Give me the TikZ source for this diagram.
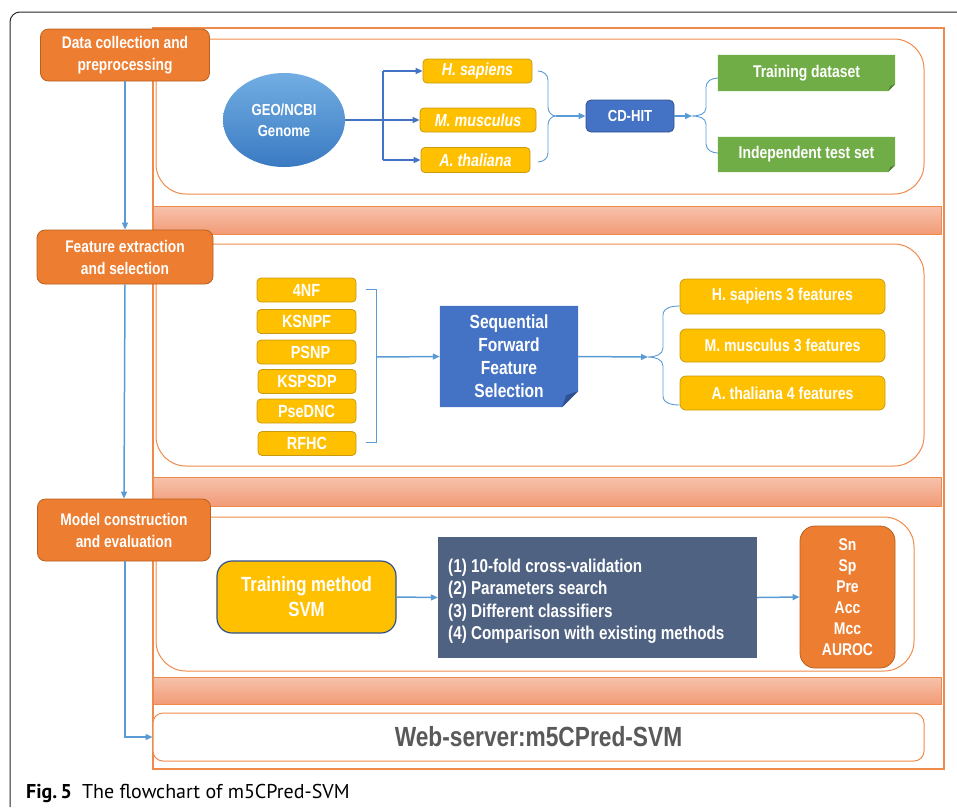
\documentclass[tikz,border=0pt]{standalone}
\usepackage{fontspec}
\setmainfont{Liberation Sans}
\newfontfamily\nar[FakeStretch=0.82]{Liberation Sans}
\newfontfamily\capfont{PT Sans}
\usetikzlibrary{arrows.meta,shapes.geometric,calc}
\definecolor{orC}{HTML}{ED7D31}
\definecolor{orD}{HTML}{B9601F}
\definecolor{orP}{HTML}{F08A4B}
\definecolor{bandT}{HTML}{F6C2AC}
\definecolor{bandB}{HTML}{F29B77}
\definecolor{yeC}{HTML}{FFC000}
\definecolor{yeD}{HTML}{C99A10}
\definecolor{blC}{HTML}{4472C4}
\definecolor{blD}{HTML}{2F528F}
\definecolor{ltB}{HTML}{5B9BD5}
\definecolor{grC}{HTML}{70AD47}
\definecolor{grD}{HTML}{507E32}
\definecolor{slC}{HTML}{4F6282}
\definecolor{ellT}{HTML}{72AEE3}
\definecolor{ellB}{HTML}{3A7AC2}
\definecolor{webT}{HTML}{595959}
\begin{document}
\begin{tikzpicture}[x=1pt,y=-1pt,
  stepbox/.style={draw=orD, fill=orC, rounded corners=8pt, line width=0.8pt, text=white,
    font=\nar\bfseries\fontsize{16.8}{22}\selectfont, align=center, inner sep=0pt},
  ybox/.style={draw=yeD, fill=yeC, rounded corners=4pt, line width=0.8pt, text=white,
    font=\nar\bfseries\fontsize{17.6}{20}\selectfont, align=center, inner sep=0pt},
  spbox/.style={ybox, font=\nar\bfseries\itshape\fontsize{17.4}{20}\selectfont},
  outbox/.style={ybox, rounded corners=6pt, font=\nar\bfseries\fontsize{17.2}{20}\selectfont},
  panel/.style={draw=orP, line width=1pt, rounded corners=30pt},
  band/.style={draw=orP, line width=1pt, top color=bandT, bottom color=bandB},
  arr/.style={draw=ltB, line width=1.5pt, -{Triangle[length=7pt,width=6pt]}},
  darr/.style={draw=blC, line width=1.5pt, -{Triangle[length=7pt,width=6pt]}},
  brace/.style={draw=ltB, line width=0.9pt},
  notetxt/.style={text=white, font=\nar\bfseries\fontsize{17}{21}\selectfont, align=center, inner sep=0pt}
]
\useasboundingbox (0,0) rectangle (957,807);
% page frame
\draw[black!85, line width=1pt, rounded corners=10pt] (10,807) -- (10,12) -- (957,12);
% outer orange rectangle
\draw[orP, line width=1.2pt] (153,28) rectangle (944,769);
% panels and bands
\draw[panel] (156,39) rectangle (924,194);
\draw[band] (153,206) rectangle (941,234);
\draw[panel] (156,244) rectangle (924,466);
\draw[band] (153,477) rectangle (941,506);
\draw[panel] (156,517) rectangle (914,671);
\draw[band] (153,677) rectangle (941,704);
\node[draw=orP, line width=1pt, rounded corners=10pt, fill=white, minimum width=771pt, minimum height=48pt,
  text=webT, font=\nar\bfseries\fontsize{27.7}{30}\selectfont, inner sep=0pt] (web) at (538.5,737) {Web-server:m5CPred-SVM};

% step boxes
\node[stepbox, minimum width=169pt, minimum height=52pt] (s1) at (125,55) {Data collection and\\preprocessing};
\node[stepbox, minimum width=176pt, minimum height=54pt] (s2) at (125,257) {Feature extraction\\and selection};
\node[stepbox, minimum width=173pt, minimum height=62pt] (s3) at (124,530) {Model construction\\and evaluation};
\draw[arr] (s1.south) -- (s2.north);
\draw[arr] (s2.south) -- (s3.north);
\draw[arr] (s3.south -| 125,0) |- (web.west);

% ---- panel 1
\node[ellipse, top color=ellT, bottom color=ellB, minimum width=122pt, minimum height=94pt, inner sep=0pt,
  text=white, font=\nar\bfseries\fontsize{16}{21}\selectfont, align=center] (geo) at (284,120) {GEO/NCBI\\Genome};
\node[spbox, minimum width=109pt, minimum height=24pt] (hs) at (477.5,71) {H. sapiens};
\node[spbox, minimum width=116pt, minimum height=24pt] (mm) at (478,120) {M. musculus};
\node[spbox, minimum width=109pt, minimum height=25pt] (at) at (475.5,160) {A. thaliana};
\coordinate (sp) at (383,120);
\draw[blC, line width=1.5pt] (geo.east) -- (sp);
\draw[blC, line width=1.5pt] (sp |- hs.west) -- (sp |- at.west);
\draw[darr] (sp |- hs.west) -- (hs.west);
\draw[darr] (sp) -- (mm.west);
\draw[darr] (sp |- at.west) -- (at.west);

\node[draw=blD, fill=blC, rounded corners=5pt, line width=0.8pt, minimum width=88pt, minimum height=32pt,
  text=white, font=\nar\bfseries\fontsize{16}{20}\selectfont, inner sep=0pt] (cd) at (630,116) {CD-HIT};
% brace 1
\coordinate (b1t) at (538,71);
\coordinate (b1b) at (538,162);
\coordinate (b1m) at (556,116);
\draw[brace] (b1t) to[out=0,in=90] (548,80) -- (548,107) to[out=-90,in=180] (b1m)
  to[out=180,in=90] (548,125) -- (548,153) to[out=-90,in=0] (b1b);
\draw[arr] (b1m) -- (cd.west);
% brace 2
\coordinate (b2m) at (692,116);
\draw[arr] (cd.east) -- (b2m);

% green note boxes
\node[notetxt, minimum width=177pt, minimum height=36pt] (tr) at (806.5,73) {};
\node[notetxt, minimum width=177pt, minimum height=35pt] (te) at (806.5,154.5) {};
\fill[grC] (tr.north west) -- (tr.north east) -- ($(tr.south east)+(0,-7)$) -- ($(tr.south east)+(-7,0)$) -- (tr.south west) -- cycle;
\fill[grD] ($(tr.south east)+(0,-7)$) -- ($(tr.south east)+(-7,0)$) -- ($(tr.south east)+(-5,-5)$) -- cycle;
\fill[grC] (te.north west) -- (te.north east) -- ($(te.south east)+(0,-7)$) -- ($(te.south east)+(-7,0)$) -- (te.south west) -- cycle;
\fill[grD] ($(te.south east)+(0,-7)$) -- ($(te.south east)+(-7,0)$) -- ($(te.south east)+(-5,-5)$) -- cycle;
\node[notetxt] at (tr.center) {Training dataset};
\node[notetxt] at (te.center) {Independent test set};
\draw[brace] (tr.west |- 0,78) to[out=180,in=90] (706,87) -- (706,108) to[out=-90,in=0] (b2m)
  to[out=0,in=90] (706,124) -- (706,144) to[out=-90,in=180] (te.west |- 0,153);

% ---- panel 2
\node[ybox, minimum width=99pt, minimum height=24pt] (f1) at (306.5,290) {4NF};
\node[ybox, minimum width=99pt, minimum height=24pt] (f2) at (306.5,321.5) {KSNPF};
\node[ybox, minimum width=99pt, minimum height=24pt] (f3) at (306.5,352) {\hspace{8pt}PSNP};
\node[ybox, minimum width=98pt, minimum height=24pt] (f4) at (307,381.5) {KSPSDP};
\node[ybox, minimum width=99pt, minimum height=24pt] (f5) at (306.5,411) {PseDNC};
\node[ybox, minimum width=98pt, minimum height=24pt] (f6) at (307,443.5) {RFHC};
\coordinate (k1) at (376,357);
\draw[brace] (366,289) -- (376,289) -- (376,442) -- (366,442);
\node[inner sep=0pt, minimum width=138pt, minimum height=101pt] (sf) at (509,356.5) {};
\fill[blC] (sf.north west) -- (sf.north east) -- ($(sf.south east)+(0,-16)$) -- ($(sf.south east)+(-16,0)$) -- (sf.south west) -- cycle;
\fill[blD] ($(sf.south east)+(0,-16)$) -- ($(sf.south east)+(-16,0)$) -- ($(sf.south east)+(-12,-12)$) -- cycle;
\node[text=white, font=\nar\bfseries\fontsize{19}{23}\selectfont, align=center, inner sep=0pt] at (sf.center)
  {Sequential\\Forward\\Feature\\Selection};
\draw[arr] (k1) -- (sf.west);
\coordinate (b3m) at (648,357);
\draw[arr] (sf.east) -- (b3m);
\node[outbox, minimum width=205pt, minimum height=35pt] (o1) at (782.5,296.5) {H. sapiens 3 features};
\node[outbox, minimum width=205pt, minimum height=33pt] (o2) at (782.5,345.5) {M. musculus 3 features};
\node[outbox, minimum width=205pt, minimum height=34pt] (o3) at (782.5,393) {A. thaliana 4 features};
\draw[brace] (o1.west |- 0,306) to[out=180,in=90] (663,315) -- (663,348) to[out=-90,in=0] (b3m)
  to[out=0,in=90] (663,366) -- (663,396) to[out=-90,in=180] (o3.west |- 0,405);

% ---- panel 3
\node[draw=blD, fill=yeC, rounded corners=15pt, line width=1.2pt, minimum width=179pt, minimum height=72pt,
  text=white, font=\nar\bfseries\fontsize{20.5}{25}\selectfont, align=center, inner sep=0pt] (svm) at (306.5,597) {Training method\\SVM};
\node[fill=slC, minimum width=319pt, minimum height=121pt, inner sep=0pt] (cv) at (597.5,597.5) {};
\node[anchor=west, text=white, font=\nar\bfseries\fontsize{18.6}{22.5}\selectfont, align=left, inner sep=0pt] (cvt) at (448,601)
  {(1) 10-fold cross-validation\\(2) Parameters search\\(3) Different classifiers\\(4) Comparison with existing methods};
\node[draw=orD, fill=orC, rounded corners=15pt, line width=0.8pt, minimum width=95pt, minimum height=142pt,
  text=white, font=\nar\bfseries\fontsize{17}{21}\selectfont, align=center, inner sep=0pt] (met) at (847.5,597)
  {Sn\\Sp\\Pre\\Acc\\Mcc\\AUROC};
\draw[arr] (svm.east) -- (cv.west);
\draw[arr] (cv.east) -- (met.west);

% caption
\node[anchor=base west, inner sep=0pt, font=\capfont\fontsize{20}{24}\selectfont] (cap) at (26,798)
  {\textbf{Fig.\,5}\hspace{10pt}The flowchart of m5CPred-SVM};
\end{tikzpicture}
\end{document}
